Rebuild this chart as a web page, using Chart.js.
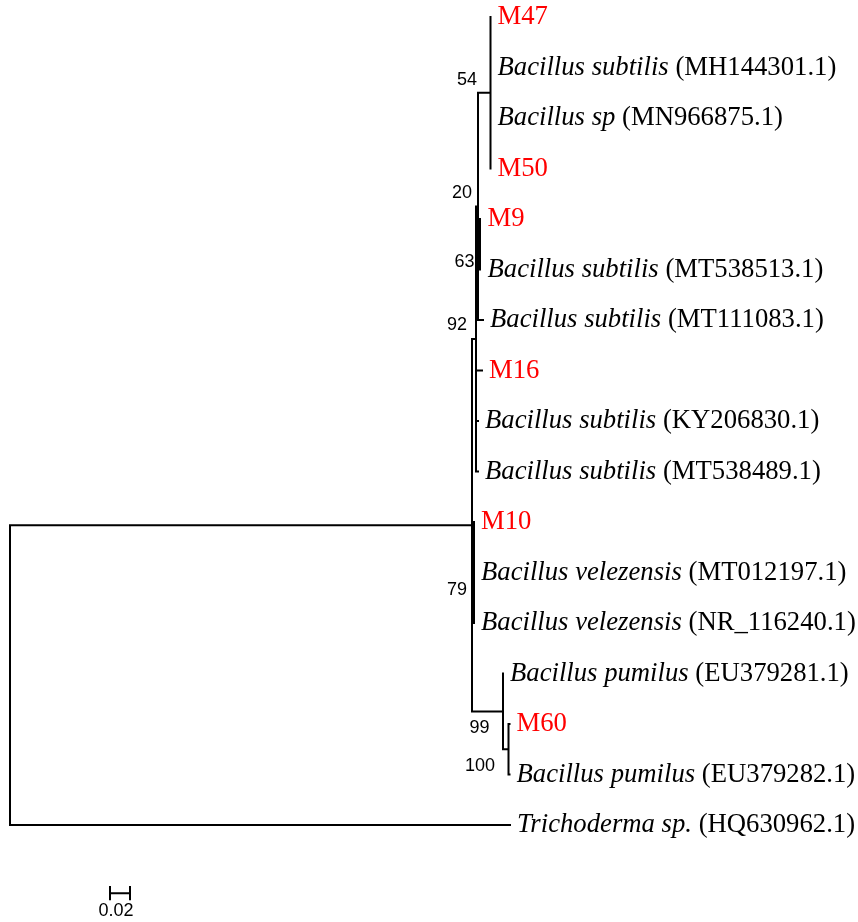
<!DOCTYPE html>
<html>
<head>
<meta charset="utf-8">
<title>Phylogenetic tree</title>
<script src="https://cdn.jsdelivr.net/npm/chart.js@4/dist/chart.umd.min.js"></script>
<style>
  html, body { margin: 0; padding: 0; background: #ffffff; }
  canvas { display: block; }
</style>
</head>
<body>
<canvas id="tree" width="858" height="922"></canvas>
<script>
// ---- Taxa, listed top to bottom (isolates have no species name) ----
const species = [
  '', 'Bacillus subtilis', 'Bacillus sp', '',
  '', 'Bacillus subtilis', 'Bacillus subtilis', '',
  'Bacillus subtilis', 'Bacillus subtilis', '',
  'Bacillus velezensis', 'Bacillus velezensis',
  'Bacillus pumilus', '', 'Bacillus pumilus',
  'Trichoderma sp.'
];
const accessions = [
  'M47', '(MH144301.1)', '(MN966875.1)', 'M50',
  'M9', '(MT538513.1)', '(MT111083.1)', 'M16',
  '(KY206830.1)', '(MT538489.1)', 'M10',
  '(MT012197.1)', '(NR_116240.1)',
  '(EU379281.1)', 'M60', '(EU379282.1)',
  '(HQ630962.1)'
];
// parent node of every tip and the length of its terminal branch
const tipParent = [
  'c54', 'c54', 'c54', 'c54',
  'c63', 'c63', 'n20', 'n92',
  'n92', 'n92', 'c79',
  'c79', 'c79',
  'c99', 'c100', 'c100',
  'root'
];
const tipLength = [
  0, 0, 0, 0,
  0.0005, 0.0005, 0.005, 0.006,
  0.002, 0.002, 0,
  0, 0,
  0, 0.001, 0.001,
  0.500
];

// ---- Internal nodes ----
const nodeIds     = ['root', 'n0',  'n92', 'n20', 'c54',  'c63', 'c79', 'c99', 'c100'];
const nodeParent  = [null,   'root', 'n0', 'n92', 'n20',  'n20', 'n0',  'n0',  'c99'];
const nodeLength  = [0,      0.462, 0.004, 0.002, 0.0125, 0.002, 0.002, 0.031, 0.0055];
const bootstrap   = [null,   null,  92,    20,    54,     63,    79,    99,    100];

// scale bar length (substitutions per site)
const scaleBarLength = 0.02;

// ---- Drawing style ----
const STYLE = {
  line: '#000000',
  lineWidth: 2,
  isolateColor: '#ff0000',
  taxonFont: '26.7px "Liberation Serif", "Times New Roman", serif',
  taxonItalic: 'italic 26.7px "Liberation Serif", "Times New Roman", serif',
  taxonGap: 7,              // px between tip and its label
  supportFont: '18px "Liberation Sans", Arial, sans-serif',
  // bootstrap label anchor (right edge, vertical centre) relative to the node, px
  supportOffset: {
    n92: [-9, -14], n20: [-6, -13], c54: [-13.5, -13], c63: [-5.5, 18],
    c79: [-7, 17.5], c99: [-13.5, 17], c100: [-13.5, 17]
  },
  scaleBar: { x: 0.1, y: 17.35, tick: 0.14, labelDx: -4, labelDy: 18 }
};

// ---- Tree layout: x = distance from root, y = tip rank ----
const nodeX = {}, nodeY = {};
const children = {};
nodeIds.forEach(id => { children[id] = []; });
nodeIds.forEach((id, i) => { if (nodeParent[i]) children[nodeParent[i]].push({ type: 'node', id }); });
tipParent.forEach((p, i) => children[p].push({ type: 'tip', i }));

function placeX(id, x) {
  nodeX[id] = x;
  nodeIds.forEach((c, i) => { if (nodeParent[i] === id) placeX(c, x + nodeLength[i]); });
}
placeX('root', 0);
const tipX = tipParent.map((p, i) => nodeX[p] + tipLength[i]);

function childYs(id) {
  return children[id].map(c => c.type === 'tip' ? c.i : placeY(c.id));
}
function placeY(id) {
  const ys = childYs(id);
  nodeY[id] = (Math.min(...ys) + Math.max(...ys)) / 2;
  return nodeY[id];
}
placeY('root');

// branch segments, separated by gaps
const segments = [];
function seg(x1, y1, x2, y2) {
  segments.push({ x: x1, y: y1 }, { x: x2, y: y2 }, { x: x2, y: null });
}
nodeIds.forEach((id, i) => {
  const ys = childYs(id);
  seg(nodeX[id], Math.min(...ys), nodeX[id], Math.max(...ys));
  if (nodeParent[i] && nodeLength[i] > 0) seg(nodeX[nodeParent[i]], nodeY[id], nodeX[id], nodeY[id]);
});
tipParent.forEach((p, i) => {
  if (tipLength[i] > 0) seg(nodeX[p], i, tipX[i], i);
});

// scale bar: horizontal bar with an end tick on each side
const sb = STYLE.scaleBar;
const scaleSegments = [
  { x: sb.x, y: sb.y }, { x: sb.x + scaleBarLength, y: sb.y }, { x: sb.x, y: null },
  { x: sb.x, y: sb.y - sb.tick }, { x: sb.x, y: sb.y + sb.tick }, { x: sb.x, y: null },
  { x: sb.x + scaleBarLength, y: sb.y - sb.tick }, { x: sb.x + scaleBarLength, y: sb.y + sb.tick }
];

// ---- Labels ----
const treeLabels = {
  id: 'treeLabels',
  afterDatasetsDraw(chart) {
    const { ctx, scales: { x, y } } = chart;
    ctx.save();
    ctx.textBaseline = 'middle';
    ctx.textAlign = 'left';
    // tip names
    species.forEach((sp, i) => {
      let px = x.getPixelForValue(tipX[i]) + STYLE.taxonGap;
      const py = y.getPixelForValue(i);
      if (sp) {
        ctx.font = STYLE.taxonItalic;
        ctx.fillStyle = '#000';
        ctx.fillText(sp, px, py);
        px += ctx.measureText(sp + ' ').width;
        ctx.font = STYLE.taxonFont;
        ctx.fillText(accessions[i], px, py);
      } else {
        ctx.font = STYLE.taxonFont;
        ctx.fillStyle = STYLE.isolateColor;
        ctx.fillText(accessions[i], px, py);
      }
    });
    // bootstrap values
    ctx.font = STYLE.supportFont;
    ctx.fillStyle = '#000';
    ctx.textAlign = 'right';
    nodeIds.forEach((id, i) => {
      if (bootstrap[i] == null) return;
      const off = STYLE.supportOffset[id] || [-4, -12];
      ctx.fillText(String(bootstrap[i]),
        x.getPixelForValue(nodeX[id]) + off[0],
        y.getPixelForValue(nodeY[id]) + off[1]);
    });
    // scale bar label
    ctx.textAlign = 'center';
    ctx.fillText(String(scaleBarLength),
      x.getPixelForValue(sb.x + scaleBarLength / 2) + sb.labelDx,
      y.getPixelForValue(sb.y) + sb.labelDy);
    ctx.restore();
  }
};

// ---- Chart ----
const PX_PER_UNIT = 1000, ROOT_PX = 10, TIP_SPACING = 50.5, FIRST_TIP_PX = 17;
const W = 858, H = 922;
const yMin = -FIRST_TIP_PX / TIP_SPACING;

new Chart(document.getElementById('tree'), {
  type: 'scatter',
  data: {
    datasets: [
      { data: segments, showLine: true, spanGaps: false, borderColor: STYLE.line,
        borderWidth: STYLE.lineWidth, borderCapStyle: 'square', pointRadius: 0, tension: 0 },
      { data: scaleSegments, showLine: true, spanGaps: false, borderColor: STYLE.line,
        borderWidth: 2, borderCapStyle: 'butt', pointRadius: 0, tension: 0 }
    ]
  },
  options: {
    responsive: false,
    animation: false,
    events: [],
    layout: { padding: 0 },
    plugins: { legend: { display: false }, tooltip: { enabled: false } },
    scales: {
      x: { type: 'linear', display: false,
           min: -ROOT_PX / PX_PER_UNIT, max: (W - ROOT_PX) / PX_PER_UNIT },
      y: { type: 'linear', display: false, reverse: true,
           min: yMin, max: yMin + H / TIP_SPACING }
    }
  },
  plugins: [treeLabels]
});
</script>
</body>
</html>
